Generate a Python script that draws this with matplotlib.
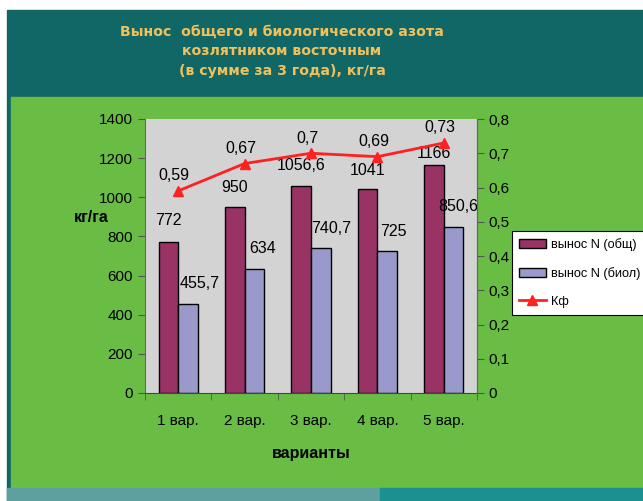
import numpy as np
import matplotlib.pyplot as plt
from matplotlib.patches import Rectangle
from matplotlib.lines import Line2D

# данные: вынос азота, кг/га, и коэффициент
variants = ['1 вар.', '2 вар.', '3 вар.', '4 вар.', '5 вар.']
n_total = [772, 950, 1056.6, 1041, 1166]
n_bio = [455.7, 634, 740.7, 725, 850.6]
kf = [0.59, 0.67, 0.70, 0.69, 0.73]

def fmt(v):
    return ('%g' % v).replace('.', ',')

plt.rcParams['font.family'] = ['Liberation Sans', 'DejaVu Sans']

fig = plt.figure(figsize=(6.43, 5.01), dpi=100)
fig.patch.set_facecolor('white')

# фон слайда
fig.patches.append(Rectangle((7/643, 0), 1, 1 - 10/501, transform=fig.transFigure,
                             color='#116666', zorder=-5))
fig.patches.append(Rectangle((11/643, 13/501), 1, (488 - 97) / 501, transform=fig.transFigure,
                             color='#69BD45', zorder=-4))
fig.patches.append(Rectangle((7/643, 0), 1, 13/501, transform=fig.transFigure,
                             color='#5E9FA0', zorder=-4))
fig.patches.append(Rectangle((380/643, 0), 1, 13/501, transform=fig.transFigure,
                             color='#1A9090', zorder=-4))

title = 'Вынос  общего и биологического азота\nкозлятником восточным\n(в сумме за 3 года), кг/га'
fig.text(282/643, 1 - 51/501, title, ha='center', va='center', multialignment='center',
         color='#EEC15D', fontsize=10.2, fontweight='bold', family='DejaVu Sans',
         linespacing=1.5)

ax = fig.add_axes([145/643, 108/501, 332/643, 274/501])
ax.set_facecolor('#D3D3D3')

x = np.arange(len(variants))
w = 0.295
ax.bar(x - w/2, n_total, w, color='#993366', edgecolor='black', linewidth=1.0,
       label='вынос N (общ)', zorder=2)
ax.bar(x + w/2, n_bio, w, color='#9999CC', edgecolor='black', linewidth=1.0,
       label='вынос N (биол)', zorder=2)

# сдвиги подписей в пикселях
tot_dy = [21, 20, 21, 19, 11]
bio_dx = [12, 8, 10, 6, 5]
px = 0.72
for i in range(len(variants)):
    ax.annotate(fmt(n_total[i]), (x[i] - w/2, n_total[i]), xytext=(0, tot_dy[i] * px),
                textcoords='offset points', ha='center', va='center', fontsize=11.5)
    ax.annotate(fmt(n_bio[i]), (x[i] + w/2, n_bio[i]), xytext=(bio_dx[i] * px, 20 * px),
                textcoords='offset points', ha='center', va='center', fontsize=11.5)

ax.set_xlim(-0.5, len(variants) - 0.5)
ax.set_ylim(0, 1400)
ax.set_yticks(range(0, 1401, 200))
ax.set_xticks(x)
ax.set_xticklabels(variants, fontsize=11)
ax.set_xticks(np.arange(-0.5, len(variants), 1), minor=True)
ax.tick_params(axis='x', which='major', length=0, pad=15)
ax.tick_params(axis='x', which='minor', length=5, direction='out', color='#555555')
ax.tick_params(axis='y', labelsize=11, length=5, color='#555555')
ax.set_xlabel('варианты', fontsize=11.5, fontweight='bold', labelpad=13)
ax.set_ylabel('кг/га', fontsize=11.5, fontweight='bold', rotation=0, ha='center', va='center')
ax.yaxis.set_label_coords(-0.163, 0.639)

ax.spines['top'].set_visible(False)
ax.spines['left'].set_color('#666666')
ax.spines['right'].set_color('#666666')
ax.spines['bottom'].set_color('#444444')

ax2 = ax.twinx()
ax2.plot(x, kf, color='#FF2020', linewidth=2, marker='^', markersize=7, label='Кф', zorder=3)
for i in range(len(variants)):
    ax2.annotate(fmt(kf[i]), (x[i], kf[i]), xytext=(-4 * px, 15 * px),
                 textcoords='offset points', ha='center', va='center', fontsize=11.5)
ax2.set_ylim(0, 0.8)
ax2.set_yticks(np.arange(0, 0.81, 0.1))
ax2.set_yticklabels([fmt(round(v, 1)) for v in np.arange(0, 0.81, 0.1)])
ax2.tick_params(axis='y', labelsize=11, length=5, color='#555555')
for s in ['top', 'left', 'bottom']:
    ax2.spines[s].set_visible(False)
ax2.spines['right'].set_color('#666666')

handles = [Rectangle((0, 0), 1, 1, facecolor='#993366', edgecolor='black'),
           Rectangle((0, 0), 1, 1, facecolor='#9999CC', edgecolor='black'),
           Line2D([], [], color='#FF2020', linewidth=2, marker='^', markersize=7)]
labels = ['вынос N (общ)', 'вынос N (биол)', 'Кф']
leg = fig.legend(handles, labels, loc='upper left', bbox_to_anchor=(512/643, 1 - 231/501),
                 fontsize=9.2, frameon=True, fancybox=False, framealpha=1,
                 edgecolor='black', borderaxespad=0, handlelength=2.1, handletextpad=0.4,
                 labelspacing=1.25, borderpad=0.55)
leg.get_frame().set_linewidth(0.8)

fig.savefig('out.png', dpi=100, facecolor=fig.get_facecolor())
